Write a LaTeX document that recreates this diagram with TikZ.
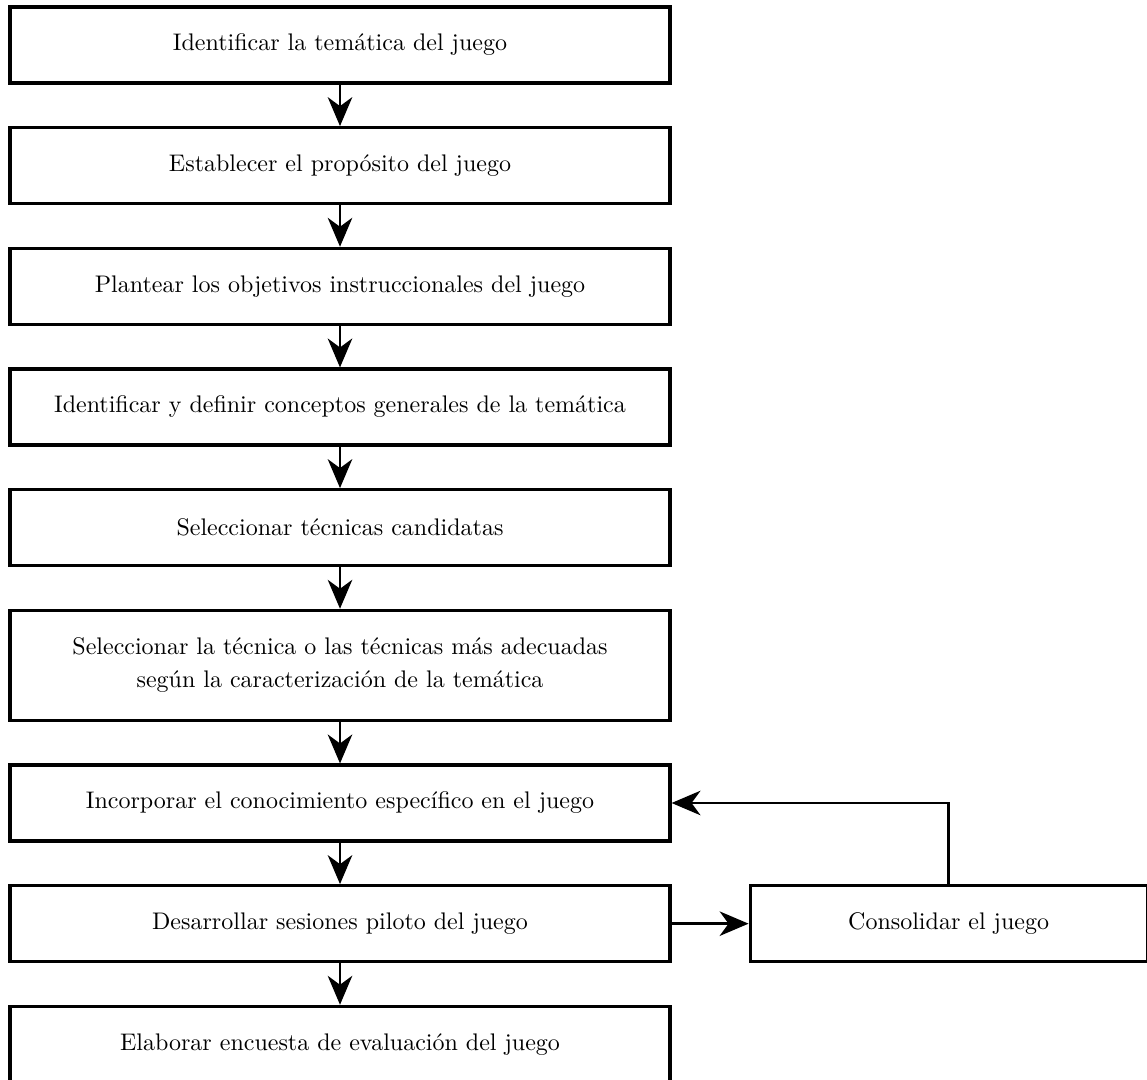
\documentclass[tikz,border=0pt]{standalone}
\usepackage{tikz}
\usetikzlibrary{
        arrows.meta,
        positioning
    }
\tikzset{>={Stealth[length=13pt,width=11pt,inset=4pt]},node distance=18.7pt}
\tikzset{paso/.style={draw,line width=1.4pt,minimum width=297pt,minimum height=34.2pt,
        align=center,inner sep=0pt,font=\fontsize{10.8}{15}\selectfont}}

\begin{document}
\begin{tikzpicture}[line width=1.3pt]
                    \useasboundingbox (0,0) rectangle (516.15pt,-486pt);
                    \node[paso] (s1) at (153pt,-20.25pt) {Identificar la temática del juego};
                    \node[paso] (s2) [below=of s1] {Establecer el propósito del juego};
                    \node[paso] (s3) [below=of s2] {Plantear los objetivos instruccionales del juego};
                    \node[paso] (s4) [below=of s3] {Identificar y definir conceptos generales de la temática};
                    \node[paso] (s5) [below=of s4] {Seleccionar técnicas candidatas};
                    \node[paso,minimum height=49.5pt] (s6) [below=of s5]
                        {Seleccionar la técnica o las técnicas más adecuadas\\ según la caracterización de la temática};
                    \node[paso] (s7) [below=of s6] {Incorporar el conocimiento específico en el juego};
                    \node[paso] (s8) [below=of s7] {Desarrollar sesiones piloto del juego};
                    \node[paso] (s9) [below=of s8] {Elaborar encuesta de evaluación del juego};
                    \node[paso,minimum width=178.65pt] (c) [right=34.65pt of s8] {Consolidar el juego};
                    \path[->]
                        (s1) edge (s2)
                        (s2) edge (s3)
                        (s3) edge (s4)
                        (s4) edge (s5)
                        (s5) edge (s6)
                        (s6) edge (s7)
                        (s7) edge (s8)
                        (s8) edge (s9)
                        (s8) edge (c);
                    \draw[->] (c.north) |- (s7.east);
                \end{tikzpicture}
\end{document}
